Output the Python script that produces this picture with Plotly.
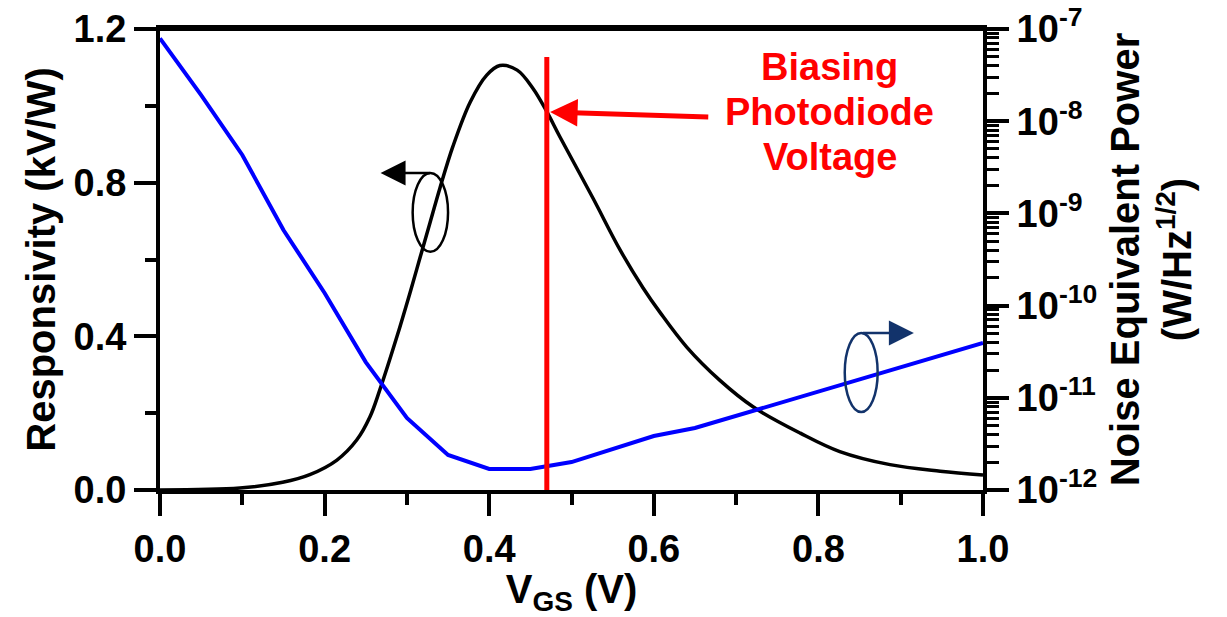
import plotly.graph_objects as go

# ---- data ----
resp_x = [0.000, 0.097, 0.149, 0.182, 0.215, 0.239, 0.255, 0.267, 0.288, 0.304, 0.316,
          0.328, 0.340, 0.356, 0.377, 0.397, 0.413, 0.434, 0.453, 0.470, 0.486, 0.526,
          0.559, 0.587, 0.608, 0.640, 0.680, 0.721, 0.778, 0.826, 0.887, 0.948, 1.000]
resp_y = [0.000, 0.005, 0.020, 0.040, 0.078, 0.130, 0.190, 0.260, 0.400, 0.515, 0.605,
          0.695, 0.785, 0.895, 1.010, 1.080, 1.105, 1.093, 1.046, 0.985, 0.919, 0.760,
          0.625, 0.526, 0.461, 0.372, 0.286, 0.216, 0.148, 0.100, 0.066, 0.049, 0.039]

nep_x = [0.00, 0.05, 0.10, 0.15, 0.20, 0.25, 0.30, 0.35, 0.40, 0.45, 0.50,
         0.55, 0.60, 0.65, 0.70, 0.75, 0.80, 0.85, 0.90, 0.95, 1.00]
nep_y = [7.92e-8, 1.92e-8, 4.30e-9, 6.61e-10, 1.37e-10, 2.44e-11, 6.04e-12, 2.40e-12,
         1.69e-12, 1.69e-12, 2.01e-12, 2.79e-12, 3.85e-12, 4.70e-12, 6.35e-12, 8.57e-12,
         1.16e-11, 1.56e-11, 2.16e-11, 2.91e-11, 3.93e-11]

x_ticks = [0.0, 0.2, 0.4, 0.6, 0.8, 1.0]
resp_ticks = [0.0, 0.4, 0.8, 1.2]
nep_tick_vals = [1e-12, 1e-11, 1e-10, 1e-9, 1e-8, 1e-7]
nep_tick_text = ["10<sup>-12</sup>", "10<sup>-11</sup>", "10<sup>-10</sup>",
                 "10<sup>-9</sup>", "10<sup>-8</sup>", "10<sup>-7</sup>"]
bias_voltage = 0.470

nep_minor = [m * v for v in nep_tick_vals[:-1] for m in range(2, 10)]

FONT = "Liberation Sans, Arial, sans-serif"
tickfont = dict(family=FONT, size=38, color="black", weight="bold")
titlefont = dict(family=FONT, size=40, color="black", weight="bold")

fig = go.Figure()
fig.add_trace(go.Scatter(x=resp_x, y=resp_y, mode="lines", yaxis="y",
                         line=dict(color="black", width=3.5, shape="spline", smoothing=1.0),
                         showlegend=False))
fig.add_trace(go.Scatter(x=nep_x, y=nep_y, mode="lines", yaxis="y2",
                         line=dict(color="#0000ff", width=4), showlegend=False))

fig.update_layout(
    width=1227, height=617,
    margin=dict(l=160, r=244, t=29, b=127),
    paper_bgcolor="white", plot_bgcolor="white",
    xaxis=dict(range=[0, 1], tickvals=x_ticks, tickformat=".1f", automargin=False,
               showline=True, linewidth=4, linecolor="black", mirror=True,
               ticks="outside", ticklen=22, tickwidth=4, tickcolor="black",
               minor=dict(dtick=0.1, ticks="outside", ticklen=11, tickwidth=4, tickcolor="black"),
               showgrid=False, zeroline=False, tickfont=tickfont,
               title=dict(text="V<sub>GS</sub> (V)", font=titlefont, standoff=0)),
    yaxis=dict(range=[0, 1.2], tickvals=resp_ticks, tickformat=".1f", automargin=False,
               showline=True, linewidth=4, linecolor="black",
               ticks="outside", ticklen=22, tickwidth=4, tickcolor="black",
               minor=dict(dtick=0.2, ticks="outside", ticklen=11, tickwidth=4, tickcolor="black"),
               showgrid=False, zeroline=False, tickfont=tickfont,
               title=dict(text="Responsivity (kV/W)", font=titlefont, standoff=7)),
    yaxis2=dict(type="log", range=[-12, -7], overlaying="y", side="right", automargin=False,
                tickmode="array", tickvals=nep_tick_vals, ticktext=nep_tick_text,
                showline=True, linewidth=4, linecolor="black",
                ticks="outside", ticklen=22, tickwidth=4, tickcolor="black",
                minor=dict(tickmode="array", tickvals=nep_minor, ticks="outside",
                           ticklen=12, tickwidth=3, tickcolor="black"),
                showgrid=False, zeroline=False, tickfont=tickfont,
                title=dict(text="Noise Equivalent Power<br>(W/Hz<sup>1/2</sup>)",
                           font=titlefont, standoff=16)),
)

# top frame line
fig.add_shape(type="line", xref="paper", yref="paper", x0=0, x1=1, y0=1, y1=1,
              line=dict(color="black", width=4))

# red biasing line
fig.add_shape(type="line", xref="x", yref="y", x0=bias_voltage, x1=bias_voltage,
              y0=0, y1=1.127, line=dict(color="#ff0000", width=5))

# ellipses marking which axis each curve belongs to
fig.add_shape(type="circle", xref="x", yref="y", x0=0.307, x1=0.350, y0=0.62, y1=0.825,
              line=dict(color="black", width=2.5))
fig.add_shape(type="circle", xref="x", yref="y", x0=0.832, x1=0.872, y0=0.203, y1=0.409,
              line=dict(color="#12336b", width=2.5))

# arrows
fig.add_annotation(x=0.268, y=0.825, ax=0.330, ay=0.825, xref="x", yref="y",
                   axref="x", ayref="y", text="", showarrow=True, arrowhead=2,
                   arrowsize=2.0, arrowwidth=2.5, arrowcolor="black")
fig.add_annotation(x=0.916, y=0.409, ax=0.852, ay=0.409, xref="x", yref="y",
                   axref="x", ayref="y", text="", showarrow=True, arrowhead=2,
                   arrowsize=2.0, arrowwidth=2.5, arrowcolor="#12336b")
fig.add_annotation(x=0.474, y=0.984, ax=0.668, ay=0.971, xref="x", yref="y",
                   axref="x", ayref="y", text="", showarrow=True, arrowhead=2,
                   arrowsize=1.1, arrowwidth=5, arrowcolor="#ff0000")

redfont = dict(family=FONT, size=38, color="#ff0000", weight="bold")
for txt, yy in [("Biasing", 1.101), ("Photodiode", 0.984), ("Voltage", 0.867)]:
    fig.add_annotation(x=0.814, y=yy, xref="x", yref="y", text=txt, showarrow=False,
                       font=redfont, xanchor="center", yanchor="middle")

fig.write_html("out.html", config={"displayModeBar": False},
               post_script="document.body.style.margin='0';document.body.style.overflow='hidden';")
